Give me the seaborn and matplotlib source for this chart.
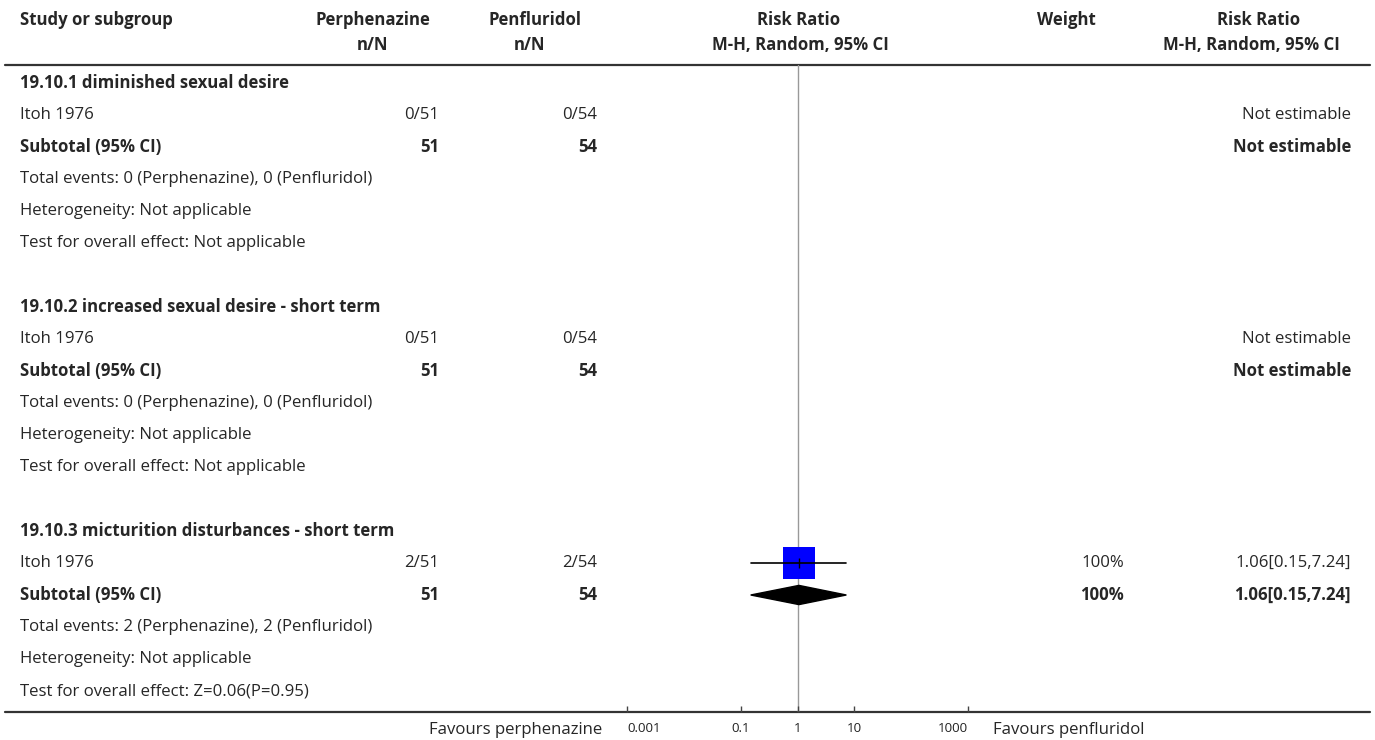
import numpy as np
import matplotlib.pyplot as plt
import seaborn as sns
from matplotlib.patches import Polygon

sns.set_style('white')
plt.rcParams['font.family'] = ['Open Sans', 'DejaVu Sans']

# data
subgroups = ['19.10.1 diminished sexual desire',
             '19.10.2 increased sexual desire - short term',
             '19.10.3 micturition disturbances - short term']
study = ['Itoh 1976', 'Itoh 1976', 'Itoh 1976']
perph_n = [0, 0, 2]
perph_N = [51, 51, 51]
penf_n = [0, 0, 2]
penf_N = [54, 54, 54]
rr = [np.nan, np.nan, 1.06]
rr_lo = [np.nan, np.nan, 0.15]
rr_hi = [np.nan, np.nan, 7.24]
weight = [None, None, 100]
overall_test = ['Not applicable', 'Not applicable', 'Z=0.06(P=0.95)']
xticks = [0.001, 0.1, 1, 10, 1000]
xtick_labels = ['0.001', '0.1', '1', '10', '1000']

W, H = 1375, 740
fig = plt.figure(figsize=(W / 100, H / 100), dpi=100)
tx = fig.add_axes([0, 0, 1, 1])
tx.set_xlim(0, W)
tx.set_ylim(H, 0)
tx.axis('off')

FS = 12.1
L = 20
row0, step = 83, 32


def ry(i):
    return row0 + step * i


# header
hdr = dict(fontsize=FS, fontweight='bold', va='center')
tx.text(L, 20, 'Study or subgroup', ha='left', **hdr)
tx.text(373, 20, 'Perphenazine', ha='center', **hdr)
tx.text(373, 45, 'n/N', ha='center', **hdr)
tx.text(535, 20, 'Penfluridol', ha='center', **hdr)
tx.text(530, 45, 'n/N', ha='center', **hdr)
tx.text(799, 20, 'Risk Ratio', ha='center', **hdr)
tx.text(800, 45, 'M-H, Random, 95% CI', ha='center', **hdr)
tx.text(1066, 20, 'Weight', ha='center', **hdr)
tx.text(1259, 20, 'Risk Ratio', ha='center', **hdr)
tx.text(1251, 45, 'M-H, Random, 95% CI', ha='center', **hdr)
tx.plot([5, 1370], [65, 65], color='#333333', lw=1.6)
tx.plot([5, 1370], [712, 712], color='#333333', lw=1.6)

# forest axes
ax = fig.add_axes([627 / W, (H - 712) / H, 341 / W, (712 - 65) / H])
ax.set_xscale('log')
ax.set_xlim(0.001, 1000)
ax.set_ylim((712 - row0) / step, (65 - row0) / step)
for s in ax.spines.values():
    s.set_visible(False)
ax.set_yticks([])
ax.set_xticks(xticks)
ax.set_xticklabels(xtick_labels, fontsize=9.6, color='#222222',
                   family=['Open Sans', 'DejaVu Sans'])
ax.get_xticklabels()[0].set_ha('left')
ax.get_xticklabels()[-1].set_ha('right')
ax.minorticks_off()
ax.tick_params(axis='x', direction='in', length=4, width=1, color='#444444',
               pad=7, bottom=True)
ax.patch.set_alpha(0)
ax.axvline(1, color='#999999', lw=1, zorder=0)

for k, name in enumerate(subgroups):
    r = 7 * k
    tx.text(L, ry(r), name, fontsize=FS, fontweight='bold', va='center')
    tx.text(L, ry(r + 1), study[k], fontsize=FS, va='center')
    tx.text(439, ry(r + 1), f'{perph_n[k]}/{perph_N[k]}', fontsize=FS, ha='right', va='center')
    tx.text(597, ry(r + 1), f'{penf_n[k]}/{penf_N[k]}', fontsize=FS, ha='right', va='center')
    tx.text(L, ry(r + 2), 'Subtotal (95% CI)', fontsize=FS, fontweight='bold', va='center')
    tx.text(439, ry(r + 2), str(perph_N[k]), fontsize=FS, fontweight='bold', ha='right', va='center')
    tx.text(597, ry(r + 2), str(penf_N[k]), fontsize=FS, fontweight='bold', ha='right', va='center')
    tx.text(L, ry(r + 3), f'Total events: {perph_n[k]} (Perphenazine), {penf_n[k]} (Penfluridol)',
            fontsize=FS, va='center')
    tx.text(L, ry(r + 4), 'Heterogeneity: Not applicable', fontsize=FS, va='center')
    tx.text(L, ry(r + 5), f'Test for overall effect: {overall_test[k]}', fontsize=FS, va='center')

    if np.isnan(rr[k]):
        tx.text(1351, ry(r + 1), 'Not estimable', fontsize=FS, ha='right', va='center')
        tx.text(1351, ry(r + 2), 'Not estimable', fontsize=FS, fontweight='bold', ha='right', va='center')
    else:
        ci = f'{rr[k]:.2f}[{rr_lo[k]:.2f},{rr_hi[k]:.2f}]'
        tx.text(1124, ry(r + 1), f'{weight[k]}%', fontsize=FS, ha='right', va='center')
        tx.text(1351, ry(r + 1), ci, fontsize=FS, ha='right', va='center')
        tx.text(1124, ry(r + 2), f'{weight[k]}%', fontsize=FS, fontweight='bold', ha='right', va='center')
        tx.text(1351, ry(r + 2), ci, fontsize=FS, fontweight='bold', ha='right', va='center')
        # study marker
        sns.scatterplot(x=[rr[k]], y=[r + 1], marker='s', s=500, color='blue',
                        linewidth=0, ax=ax, legend=False, zorder=3)
        ax.plot([rr_lo[k], rr_hi[k]], [r + 1, r + 1], color='black', lw=1.2, zorder=4)
        ax.plot([rr[k]], [r + 1], marker='|', ms=7, color='black', zorder=5)
        # subtotal diamond
        h = 0.3
        ax.add_patch(Polygon([(rr_lo[k], r + 2), (rr[k], r + 2 - h), (rr_hi[k], r + 2),
                              (rr[k], r + 2 + h)], closed=True, color='black', zorder=3))

tx.text(602, 730, 'Favours perphenazine', fontsize=FS, ha='right', va='center')
tx.text(993, 730, 'Favours penfluridol', fontsize=FS, ha='left', va='center')

fig.savefig('out.png', dpi=100)
